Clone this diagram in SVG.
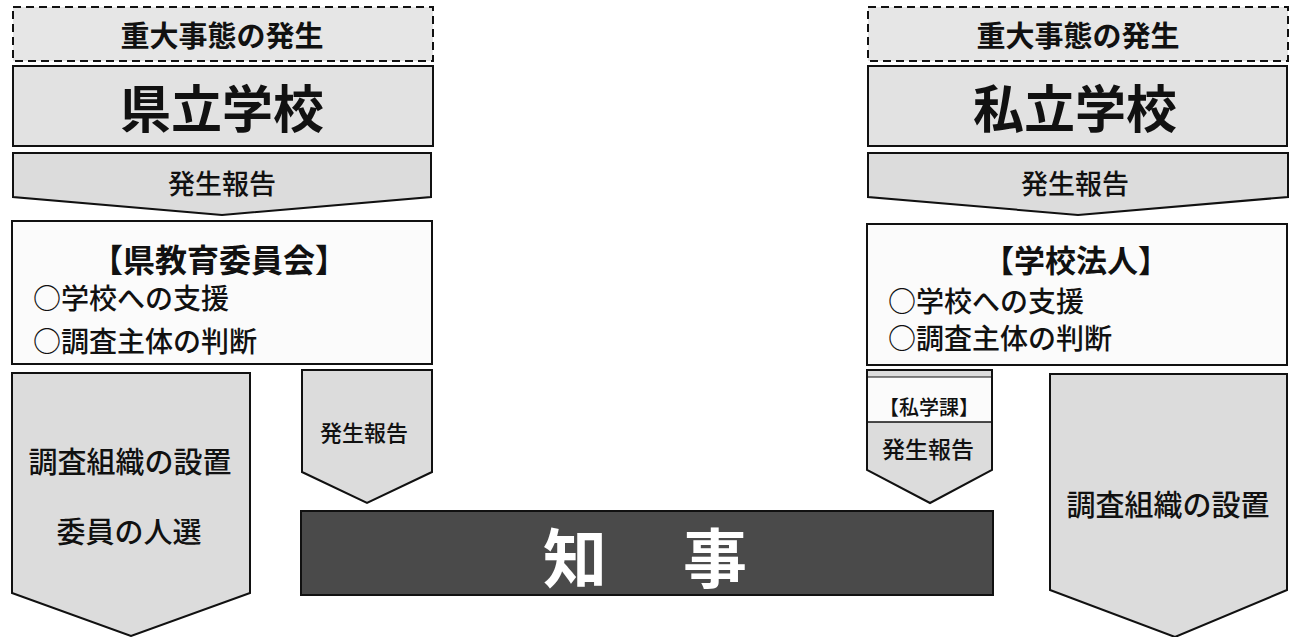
<svg xmlns="http://www.w3.org/2000/svg" width="1290" height="637" viewBox="0 0 1290 637">
<defs>
<style>
.t{font-family:"Noto Sans CJK JP","Noto Sans CJK SC",sans-serif;fill:#111;text-anchor:middle;dominant-baseline:central;font-weight:500}
.b{font-weight:bold}
.box{fill:#e2e2e2;stroke:#111;stroke-width:2}
.wbox{fill:#fbfbfb;stroke:#111;stroke-width:2}
.arr{fill:#dcdcdc;stroke:#111;stroke-width:2;stroke-linejoin:miter}
.dash{fill:#e6e6e6;stroke:#111;stroke-width:2;stroke-dasharray:8 5}
</style>
</defs>
<rect x="0" y="0" width="1290" height="637" fill="#ffffff"/>

<g id="left-event">
<rect class="dash" x="13" y="7" width="420" height="54"/>
<text class="t b" x="222" y="34" font-size="29">重大事態の発生</text>
</g>
<g id="left-school">
<rect class="box" x="13" y="66" width="420" height="80"/>
<text class="t b" x="222" y="106" font-size="51">県立学校</text>
</g>
<g id="connectors">
<g id="left-report-arrow">
<polygon class="arr" points="13,153 431,153 431,197 222,215 13,197"/>
<text class="t" x="222" y="182" font-size="27">発生報告</text>
</g>
<g id="right-report-arrow">
<polygon class="arr" points="868,153 1288,153 1288,197 1078,215 868,197"/>
<text class="t" x="1075" y="182" font-size="27">発生報告</text>
</g>
<g id="left-investigation-arrow">
<polygon class="arr" points="12,373 250,373 250,593 131,636 12,593"/>
<text class="t" x="130" y="460" font-size="29">調査組織の設置</text>
<text class="t" x="129" y="530" font-size="29">委員の人選</text>
</g>
<g id="left-small-report-arrow">
<polygon class="arr" points="302,370 432,370 432,472 367,503 302,472"/>
<text class="t" x="364" y="431" font-size="22">発生報告</text>
</g>
<g id="right-small-report-arrow">
<polygon class="arr" points="867,370 992,370 992,470 930,503 867,470"/>
<rect x="868" y="377" width="123" height="45" fill="#fbfbfb"/>
<line x1="867" y1="377" x2="992" y2="377" stroke="#111" stroke-width="1"/>
<line x1="867" y1="422" x2="992" y2="422" stroke="#111" stroke-width="1.5"/>
<text class="t" x="929" y="406" font-size="20">【私学課】</text>
<text class="t" x="928" y="448" font-size="23">発生報告</text>
</g>
<g id="right-investigation-arrow">
<polygon class="arr" points="1050,374 1287,374 1287,590 1175,637 1050,590"/>
<text class="t" x="1168" y="503" font-size="29">調査組織の設置</text>
</g>
</g>

<g id="left-board">
<rect class="wbox" x="12" y="221" width="420" height="143"/>
<text class="t b" x="219" y="258" font-size="32">【県教育委員会】</text>
<text class="t" x="33" y="297" font-size="28" style="text-anchor:start">○学校への支援</text>
<text class="t" x="33" y="340" font-size="28" style="text-anchor:start">○調査主体の判断</text>
</g>

<g id="right-event">
<rect class="dash" x="868" y="7" width="420" height="54"/>
<text class="t b" x="1078" y="34" font-size="29">重大事態の発生</text>
</g>
<g id="right-school">
<rect class="box" x="868" y="66" width="419" height="80"/>
<text class="t b" x="1075" y="106" font-size="51">私立学校</text>
</g>
<g id="right-corporation">
<rect class="wbox" x="867" y="224" width="420" height="141"/>
<text class="t b" x="1076" y="258" font-size="31">【学校法人】</text>
<text class="t" x="888" y="300" font-size="28" style="text-anchor:start">○学校への支援</text>
<text class="t" x="888" y="337" font-size="28" style="text-anchor:start">○調査主体の判断</text>
</g>

<g id="governor">
<rect x="301" y="511" width="692" height="84" fill="#4a4a4a" stroke="#111" stroke-width="2"/>
<text class="t b" x="575" y="554" font-size="64" style="fill:#ffffff">知</text>
<text class="t b" x="715" y="554" font-size="64" style="fill:#ffffff">事</text>
</g>
</svg>
